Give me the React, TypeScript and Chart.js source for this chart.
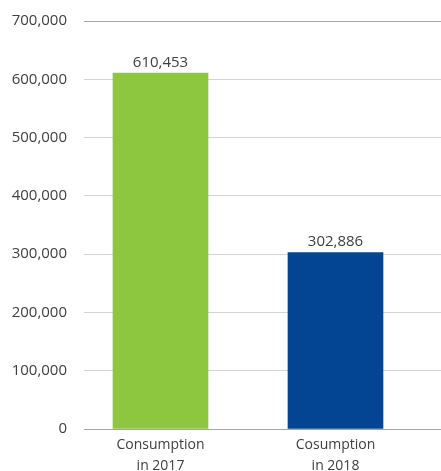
import React, { useEffect, useRef } from "react";
import { Chart, registerables } from "chart.js";

Chart.register(...registerables);

const categories: string[][] = [["Consumption", "in 2017"], ["Cosumption", "in 2018"]];
const values: number[] = [610453, 302886];
const barColors: string[] = ["#8dc63f", "#034592"];
const yTicks: number[] = [0, 100000, 200000, 300000, 400000, 500000, 600000, 700000];

const TEXT = "#404040";
const FONT = "'Open Sans', 'Noto Sans', sans-serif";

const valueLabels = {
  id: "valueLabels",
  afterDatasetsDraw(chart: any) {
    const ctx = chart.ctx;
    const meta = chart.getDatasetMeta(0);
    ctx.save();
    ctx.font = `15px ${FONT}`;
    ctx.fillStyle = TEXT;
    ctx.textAlign = "center";
    ctx.textBaseline = "alphabetic";
    meta.data.forEach((el: any, i: number) => {
      ctx.fillText(values[i].toLocaleString("en-US"), el.x, el.y - 6.5);
    });
    ctx.restore();
  },
};

export default function App() {
  const ref = useRef<HTMLCanvasElement | null>(null);
  useEffect(() => {
    if (!ref.current) return;
    const chart = new Chart(ref.current, {
      type: "bar",
      data: {
        datasets: [
          {
            data: values.map((v, i) => ({ x: i, y: v })),
            backgroundColor: barColors,
            barThickness: 95,
          },
        ],
      },
      options: {
        animation: false,
        responsive: true,
        maintainAspectRatio: false,
        layout: { padding: { top: 21, right: 0, left: 0, bottom: 0 } },
        plugins: { legend: { display: false }, tooltip: { enabled: false } },
        scales: {
          x: {
            type: "linear",
            offset: false,
            min: -0.4371,
            max: 1.6029,
            grid: { display: false, drawTicks: false, offset: false },
            border: { display: false },
            afterBuildTicks: (scale: any) => {
              scale.ticks = categories.map((_, i) => ({ value: i }));
            },
            afterFit: (scale: any) => {
              scale.height = 42;
              scale.paddingLeft = 0;
              scale.paddingRight = 0;
            },
            ticks: {
              padding: 5,
              color: TEXT,
              font: { family: FONT, size: 14, lineHeight: 1.53 },
              maxRotation: 0,
              autoSkip: false,
              callback: (v: any) => categories[Number(v)] ?? "",
            },
          },
          y: {
            min: 0,
            max: 700000,
            afterBuildTicks: (scale: any) => {
              scale.ticks = yTicks.map((v) => ({ value: v }));
            },
            afterFit: (scale: any) => {
              scale.width = 84;
              scale.paddingTop = 0;
              scale.paddingBottom = 0;
            },
            border: { display: false },
            grid: {
              drawTicks: false,
              lineWidth: 1,
              color: (c: any) =>
                c.tick && (c.tick.value === 0 || c.tick.value === 700000) ? "#a3a3a3" : "#d4d4d4",
            },
            ticks: {
              padding: 17,
              color: TEXT,
              font: { family: FONT, size: 15 },
              callback: (v: any) => Number(v).toLocaleString("en-US"),
            },
          },
        },
      },
      plugins: [valueLabels],
    });
    return () => chart.destroy();
  }, []);
  return (
    <div style={{ position: "absolute", left: 0, top: 0, width: 441, height: 471 }}>
      <canvas ref={ref} />
    </div>
  );
}
